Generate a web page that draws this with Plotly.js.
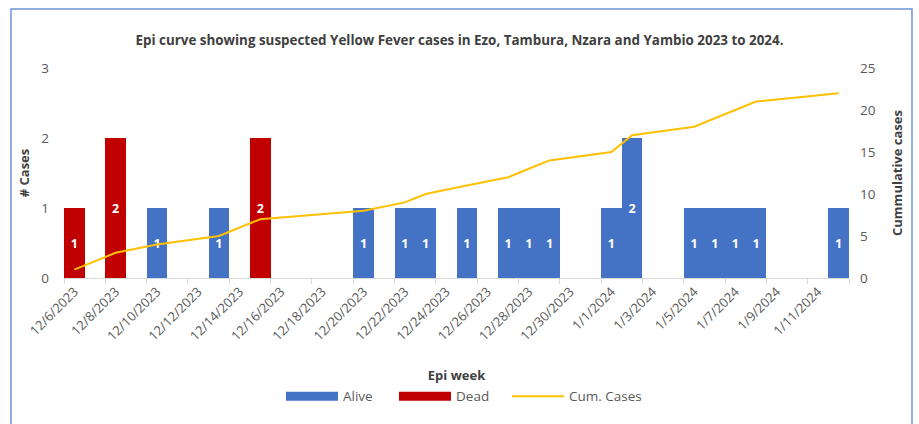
<!DOCTYPE html>
<html>
<head>
<meta charset="utf-8">
<script src="https://cdn.plot.ly/plotly-3.0.1.min.js"></script>
<style>
  html, body { margin: 0; padding: 0; background: #ffffff; }
  #chart { width: 919px; height: 424px; }
</style>
</head>
<body>
<div id="chart"></div>
<script>
// ---- Data ----
const aliveDates = ['2023-12-10','2023-12-13','2023-12-20','2023-12-22','2023-12-23','2023-12-25',
                    '2023-12-27','2023-12-28','2023-12-29','2024-01-01','2024-01-02','2024-01-05',
                    '2024-01-06','2024-01-07','2024-01-08','2024-01-12'];
const aliveCases = [1,1,1,1,1,1,1,1,1,1,2,1,1,1,1,1];

const deadDates = ['2023-12-06','2023-12-08','2023-12-15'];
const deadCases = [1,2,2];

const cumDates = ['2023-12-06','2023-12-08','2023-12-10','2023-12-13','2023-12-15','2023-12-20',
                  '2023-12-22','2023-12-23','2023-12-25','2023-12-27','2023-12-28','2023-12-29',
                  '2024-01-01','2024-01-02','2024-01-05','2024-01-06','2024-01-07','2024-01-08',
                  '2024-01-12'];
const cumCases = [1,3,4,5,7,8,9,10,11,12,13,14,15,17,18,19,20,21,22];

const seriesNames = ['Alive', 'Dead', 'Cum. Cases'];
const titleText = 'Epi curve showing suspected Yellow Fever cases in Ezo, Tambura, Nzara and Yambio 2023 to 2024.';
const xTitle = 'Epi week';
const yTitle = '# Cases';
const y2Title = 'Cummulative cases';

// ---- Styling ----
const FONT = 'Open Sans, Noto Sans, sans-serif';
const DAY = 86400000;
const BLUE = '#4472C4', RED = '#C00000', GOLD = '#FFC000';
const labelFont = { family: FONT, size: 12.5, color: '#ffffff', weight: 'bold' };

const traces = [
  {
    type: 'bar', name: seriesNames[0], x: aliveDates, y: aliveCases, showlegend: false, legendgroup: 'a',
    width: DAY, marker: { color: BLUE, line: { width: 0 } },
    text: aliveCases.map(String), textposition: 'inside', insidetextanchor: 'middle',
    textangle: 0, textfont: labelFont, constraintext: 'none'
  },
  {
    type: 'bar', name: seriesNames[1], x: deadDates, y: deadCases, showlegend: false, legendgroup: 'd',
    width: DAY, marker: { color: RED, line: { width: 0 } },
    text: deadCases.map(String), textposition: 'inside', insidetextanchor: 'middle',
    textangle: 0, textfont: labelFont, constraintext: 'none'
  },
  {
    type: 'scatter', mode: 'lines', name: seriesNames[2], x: cumDates, y: cumCases, showlegend: false,
    yaxis: 'y2', line: { color: GOLD, width: 2 }
  },
  // legend entries (wide swatches like the reference), one legend each for exact spacing
  { type: 'scatter', mode: 'lines', name: seriesNames[0], x: [null], y: [null], legendgroup: 'a',
    legend: 'legend', line: { color: BLUE, width: 9 } },
  { type: 'scatter', mode: 'lines', name: seriesNames[1], x: [null], y: [null], legendgroup: 'd',
    legend: 'legend2', line: { color: RED, width: 9 } },
  { type: 'scatter', mode: 'lines', name: seriesNames[2], x: [null], y: [null], yaxis: 'y2',
    legend: 'legend3', line: { color: GOLD, width: 2 } }
];

const axisFont = { family: FONT, size: 13.5, color: '#595959' };
const legendBase = (px) => ({
  orientation: 'h', x: (px - 64) / 785, xanchor: 'left', y: -0.49, yanchor: 'top',
  font: { family: FONT, size: 13.5, color: '#595959' },
  itemwidth: 52, bgcolor: 'rgba(0,0,0,0)'
});

const layout = {
  width: 919, height: 424,
  margin: { l: 64, r: 70, t: 68, b: 146 },
  paper_bgcolor: '#ffffff', plot_bgcolor: '#ffffff',
  barmode: 'stack', bargap: 0,
  font: { family: FONT, color: '#595959' },
  title: {
    text: titleText, x: 0.5, xanchor: 'center', y: 0.905, yanchor: 'middle',
    font: { family: FONT, size: 13.4, color: '#404040', weight: 'bold' }
  },
  xaxis: {
    type: 'date',
    range: ['2023-12-05 12:00', '2024-01-12 12:00'],
    tick0: '2023-12-06', dtick: 2 * DAY,
    tickformat: '%-m/%-d/%Y', tickangle: -45,
    tickfont: { family: FONT, size: 13, color: '#595959' },
    ticks: '', showgrid: false, zeroline: false,
    showline: true, linecolor: '#D9D9D9', linewidth: 1,
    minor: { tick0: '2023-12-05 12:00', dtick: 2 * DAY, ticks: 'outside', ticklen: 5, tickcolor: '#D9D9D9', tickwidth: 1, showgrid: false },
    title: { text: xTitle, standoff: 27, font: { family: FONT, size: 13, color: '#404040', weight: 'bold' } }
  },
  yaxis: {
    range: [0, 3], dtick: 1, showgrid: false, zeroline: false, showline: false,
    ticks: '', tickfont: axisFont, ticklabelstandoff: 14,
    title: { text: yTitle, standoff: 8, font: { family: FONT, size: 13, color: '#404040', weight: 'bold' } }
  },
  yaxis2: {
    overlaying: 'y', side: 'right', range: [0, 25], dtick: 5,
    showgrid: false, zeroline: false, showline: false, ticks: '',
    tickfont: axisFont, ticklabelstandoff: 10,
    title: { text: y2Title, standoff: 18, font: { family: FONT, size: 13, color: '#404040', weight: 'bold' } }
  },
  showlegend: true,
  legend: legendBase(281),
  legend2: legendBase(394),
  legend3: legendBase(507),
  shapes: [
    {
      type: 'rect', xref: 'paper', yref: 'paper',
      x0: (11 - 64) / 785, x1: (912 - 64) / 785,
      y0: (278 - 440) / 210, y1: (278 - 9) / 210,
      line: { color: '#6F95D9', width: 1.5 }, fillcolor: 'rgba(0,0,0,0)', layer: 'below'
    }
  ]
};

Plotly.newPlot('chart', traces, layout, { displayModeBar: false, staticPlot: true });
</script>
</body>
</html>
